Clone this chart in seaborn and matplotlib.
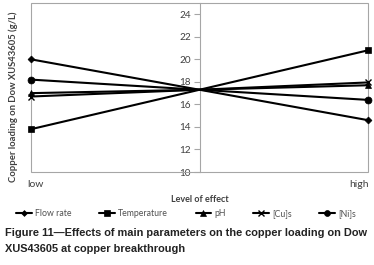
import matplotlib
matplotlib.use("Agg")
import matplotlib.pyplot as plt
import matplotlib.transforms as mtransforms
from matplotlib.lines import Line2D
from matplotlib.patches import Rectangle
import seaborn as sns
import pandas as pd

levels = ["low", "", "high"]
positions = [0, 1, 2]
flow_rate = [20.0, 17.3, 14.6]
temperature = [13.8, 17.3, 20.8]
ph = [17.0, 17.3, 17.7]
cu_s = [16.7, 17.3, 17.95]
ni_s = [18.2, 17.3, 16.4]
series_names = ["Flow rate", "Temperature", "pH", "[Cu]s", "[Ni]s"]
series_values = [flow_rate, temperature, ph, cu_s, ni_s]
y_ticks = [10, 12, 14, 16, 18, 20, 22, 24]

sns.set_theme(style="white")
plt.rcParams['font.family'] = ['Lato', 'DejaVu Sans']

rows = []
for name, vals in zip(series_names, series_values):
    for p, v in zip(positions, vals):
        rows.append({"pos": p, "val": v, "param": name})
df = pd.DataFrame(rows)

markers = {"Flow rate": "D", "Temperature": "s", "pH": "^", "[Cu]s": "x", "[Ni]s": "o"}
msizes = {"Flow rate": 3.5, "Temperature": 5, "pH": 5, "[Cu]s": 5, "[Ni]s": 5}

fig = plt.figure(figsize=(3.74, 2.65), dpi=100)
ax = fig.add_axes([31/374, 1-172/265, (368-31)/374, (172-3)/265])

for name in series_names:
    sub = df[df.param == name]
    sns.lineplot(data=sub, x="pos", y="val", ax=ax, color="black", lw=1.5,
                 marker=markers[name], markersize=msizes[name], markevery=[0, 2],
                 markeredgecolor="black", markeredgewidth=1.0 if name == "[Cu]s" else 0.5,
                 clip_on=False, legend=False, zorder=3)

gray = "#A6A6A6"
ax.set_xlim(0, 2)
ax.set_ylim(10, 25)
for s in ["top", "right", "bottom"]:
    ax.spines[s].set_visible(False)
ax.spines["left"].set_position(("data", 1))
ax.spines["left"].set_color(gray)
ax.spines["left"].set_linewidth(0.8)
ax.add_patch(Rectangle((0, 0), 1, 1, transform=ax.transAxes, fill=False,
                       edgecolor=gray, lw=0.8, clip_on=False, zorder=1))

ax.set_yticks(y_ticks)
ax.tick_params(axis="y", direction="out", length=4, width=0.8, color=gray,
               labelsize=7.2, labelcolor="#404040", pad=2, left=True)
ax.set_xticks([0, 2])
ax.set_xticklabels([levels[0], levels[2]])
ax.tick_params(axis="x", length=0, labelsize=7.5, labelcolor="#404040", pad=6)
tl = ax.get_xticklabels()
tl[0].set_transform(tl[0].get_transform() + mtransforms.ScaledTranslation(4/100, 0, fig.dpi_scale_trans))
tl[1].set_transform(tl[1].get_transform() + mtransforms.ScaledTranslation(-9/100, 0, fig.dpi_scale_trans))

ax.set_xlabel("")
ax.set_ylabel("")
fig.text(13/374, 1-97/265, "Copper loading on Dow XUS43605 (g/L)", rotation=90,
         ha="center", va="center", fontsize=6.8, fontweight="bold", color="#404040")
fig.text(200/374, 1-199/265, "Level of effect", ha="center", va="center",
         fontsize=6.5, fontweight="bold", color="#404040")

handles = [Line2D([], [], color="black", lw=1.5, marker=markers[n], markersize=msizes[n] * 0.85,
                  markeredgewidth=1.0 if n == "[Cu]s" else 0.5) for n in series_names]
fig.legend(handles, series_names, loc="center", bbox_to_anchor=(186/374, 1-214/265),
           ncol=5, frameon=False, fontsize=6.3, handlelength=1.8, handletextpad=0.3,
           columnspacing=3.2, labelcolor="#505050")

fig.text(5/374, 1-233/265, "Figure 11\u2014Effects of main parameters on the copper loading on Dow",
         ha="left", va="center", fontsize=7.9, fontweight="bold", family="Liberation Sans", color="#222222")
fig.text(5/374, 1-249/265, "XUS43605 at copper breakthrough",
         ha="left", va="center", fontsize=7.9, fontweight="bold", family="Liberation Sans", color="#222222")

fig.savefig("out.png", dpi=100)
